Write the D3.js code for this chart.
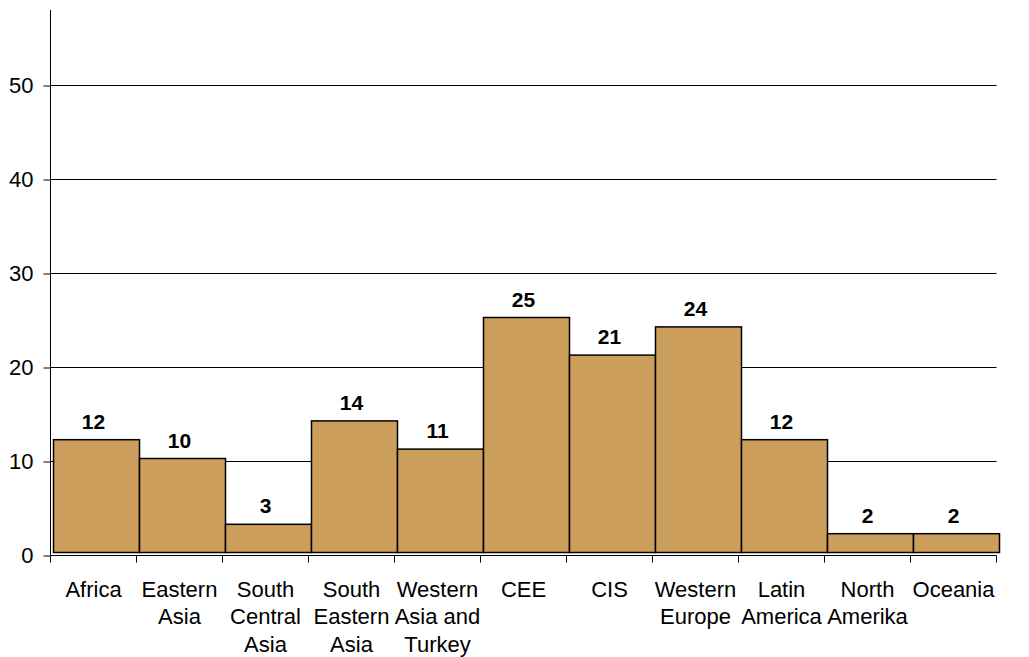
<!DOCTYPE html>
<html lang="en">
<head>
    <meta charset="UTF-8">
    <title>Regions</title>
    <script src="https://d3js.org/d3.v7.min.js"></script>
    <style>
        body { margin: 0; background: #fff; font-family: Arial, "Liberation Sans", sans-serif; }
        .axis text { font-family: Arial, "Liberation Sans", sans-serif; }
    </style>
</head>
<body>
    <div id="chart"></div>
    <script>
        const regions = [
            ["Africa"], ["Eastern", "Asia"], ["South", "Central", "Asia"], ["South", "Eastern", "Asia"],
            ["Western", "Asia and", "Turkey"], ["CEE"], ["CIS"], ["Western", "Europe"],
            ["Latin", "America"], ["North", "Amerika"], ["Oceania"]
        ];
        const values = [12, 10, 3, 14, 11, 25, 21, 24, 12, 2, 2];
        const yTicks = [0, 10, 20, 30, 40, 50];

        const width = 1029, height = 657;
        const left = 50.5, right = 996.5, zeroY = 555.5, topY = 85.5;
        const shift = 3; // bars sit a few pixels up and right of the axes

        const svg = d3.select("#chart").append("svg")
            .attr("width", width)
            .attr("height", height);

        const names = regions.map(r => r.join(" "));

        const x = d3.scaleBand()
            .domain(names)
            .range([left, right])
            .padding(0);

        const y = d3.scaleLinear()
            .domain([0, 50])
            .range([zeroY, topY]);

        // gridlines
        svg.append("g")
            .selectAll("line")
            .data(yTicks.filter(d => d > 0))
            .enter().append("line")
            .attr("x1", left).attr("x2", right)
            .attr("y1", d => y(d)).attr("y2", d => y(d))
            .attr("stroke", "#000").attr("stroke-width", 1);

        // bars
        svg.append("g")
            .selectAll("rect")
            .data(values)
            .enter().append("rect")
            .attr("x", (d, i) => x(names[i]) + shift)
            .attr("y", d => y(d) - shift)
            .attr("width", x.bandwidth())
            .attr("height", d => y(0) - y(d))
            .attr("fill", "#cc9e5c")
            .attr("stroke", "#000")
            .attr("stroke-width", 1.5);

        // value labels
        svg.append("g")
            .selectAll("text")
            .data(values)
            .enter().append("text")
            .attr("x", (d, i) => x(names[i]) + x.bandwidth() / 2)
            .attr("y", d => y(d) - shift - 11)
            .attr("text-anchor", "middle")
            .attr("font-size", "21px")
            .attr("font-weight", "bold")
            .attr("fill", "#000")
            .text(d => d);

        // y axis
        const yAxis = svg.append("g")
            .attr("class", "axis")
            .attr("transform", `translate(${left},0)`)
            .call(d3.axisLeft(y).tickValues(yTicks).tickSize(7).tickPadding(10).tickSizeOuter(0));
        yAxis.select(".domain").remove();
        yAxis.append("line")
            .attr("x1", 0).attr("x2", 0)
            .attr("y1", 10).attr("y2", zeroY)
            .attr("stroke", "#000");
        yAxis.selectAll("text").attr("font-size", "22px").attr("fill", "#000");

        // x axis with boundary ticks
        const xAxis = svg.append("g").attr("class", "axis");
        xAxis.append("line")
            .attr("x1", left).attr("x2", right)
            .attr("y1", zeroY).attr("y2", zeroY)
            .attr("stroke", "#000");
        const bounds = names.map(n => x(n)).concat([x(names[names.length - 1]) + x.bandwidth()]);
        xAxis.selectAll(".tick")
            .data(bounds)
            .enter().append("line")
            .attr("x1", d => d).attr("x2", d => d)
            .attr("y1", zeroY).attr("y2", zeroY + 7)
            .attr("stroke", "#000");

        const labels = xAxis.selectAll(".lab")
            .data(regions)
            .enter().append("text")
            .attr("text-anchor", "middle")
            .attr("font-size", "22px")
            .attr("fill", "#000")
            .attr("transform", (d, i) => `translate(${x(names[i]) + x.bandwidth() / 2},${zeroY + 41})`);
        labels.selectAll("tspan")
            .data(d => d)
            .enter().append("tspan")
            .attr("x", 0)
            .attr("y", (d, i) => i * 27.5)
            .text(d => d);
    </script>
</body>
</html>
